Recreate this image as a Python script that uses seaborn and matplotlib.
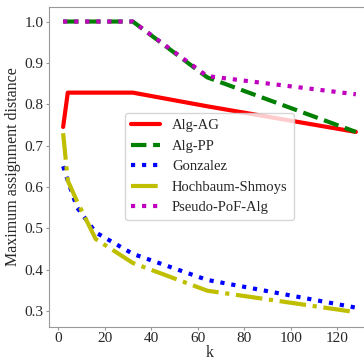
import numpy as np
import pandas as pd
import matplotlib
matplotlib.use("Agg")
import matplotlib.pyplot as plt
import seaborn as sns

k_values = [2, 4, 8, 16, 32, 64, 128]
alg_ag = [0.745, 0.828, 0.828, 0.828, 0.828, 0.795, 0.733]
alg_pp = [1.0, 1.0, 1.0, 1.0, 1.0, 0.865, 0.733]
gonzalez = [0.65, 0.615, 0.55, 0.49, 0.438, 0.375, 0.308]
hochbaum = [0.73, 0.615, 0.565, 0.474, 0.416, 0.349, 0.297]
pseudo = [1.0, 1.0, 1.0, 1.0, 1.0, 0.868, 0.824]

series_names = ["Alg-AG", "Alg-PP", "Gonzalez", "Hochbaum-Shmoys", "Pseudo-PoF-Alg"]
series_values = [alg_ag, alg_pp, gonzalez, hochbaum, pseudo]
colors = ["r", "g", "b", "y", "m"]
styles = ["-", "--", ":", "-.", ":"]

sns.set_style("white")
plt.rcParams["font.family"] = ["Liberation Serif", "DejaVu Serif"]

fig = plt.figure(figsize=(3.64, 3.60), dpi=100)
ax = fig.add_axes([48.5 / 364, 33.3 / 360, (370.5 - 48.5) / 364, (353 - 33.3) / 360])

for name, vals, c, ls in zip(series_names, series_values, colors, styles):
    df = pd.DataFrame({"k": k_values, "v": vals})
    sns.lineplot(data=df, x="k", y="v", ax=ax, color=c, linestyle=ls, lw=3, label=name)

ax.set_xlabel("k", fontsize=11.5, labelpad=0)
ax.set_ylabel("Maximum assignment distance", fontsize=11.5, labelpad=2.5)
ax.set_xticks([0, 20, 40, 60, 80, 100, 120])
ax.set_yticks([0.3, 0.4, 0.5, 0.6, 0.7, 0.8, 0.9, 1.0])
ax.set_yticklabels(["0.3", "0.4", "0.5", "0.6", "0.7", "0.8", "0.9", "1.0"])
ax.tick_params(axis="both", labelsize=11, length=2.2, width=0.8, color="#999999",
               bottom=True, left=True, direction="out", pad=1.5)
for s in ax.spines.values():
    s.set_color("#999999")
    s.set_linewidth(0.8)
ax.margins(x=0.05, y=0.05)
ax.legend(loc="center", fontsize=10.5, frameon=True, framealpha=0.8)

fig.savefig("out.png", dpi=100)
